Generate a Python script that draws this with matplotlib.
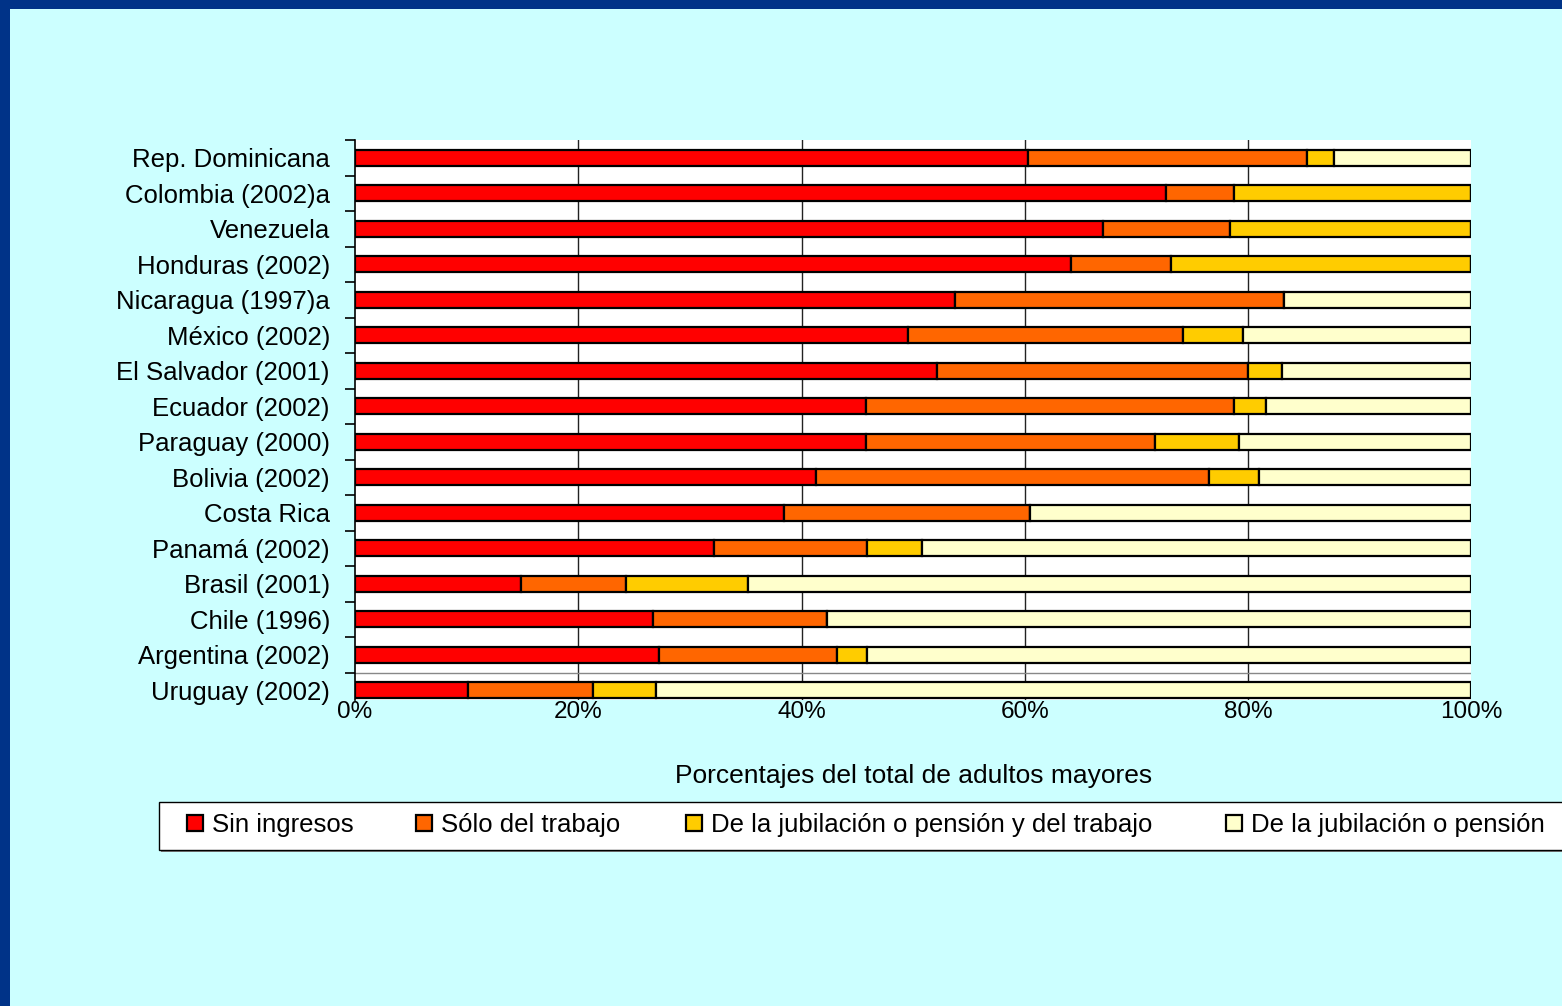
import matplotlib
matplotlib.use("Agg")
import matplotlib.pyplot as plt
from matplotlib.patches import Rectangle
import numpy as np

plt.rcParams['font.family'] = ['Liberation Sans', 'DejaVu Sans']

categories = ["Rep. Dominicana", "Colombia (2002)a", "Venezuela", "Honduras (2002)",
              "Nicaragua (1997)a", "México (2002)", "El Salvador (2001)", "Ecuador (2002)",
              "Paraguay (2000)", "Bolivia (2002)", "Costa Rica", "Panamá (2002)",
              "Brasil (2001)", "Chile (1996)", "Argentina (2002)", "Uruguay (2002)"]
sin_ingresos = [60.3, 72.6, 67.0, 64.1, 53.7, 49.5, 52.1, 45.8, 45.8, 41.3, 38.4, 32.2, 14.9, 26.7, 27.2, 10.1]
solo_trabajo = [25.0, 6.1, 11.4, 9.0, 29.5, 24.7, 27.9, 32.9, 25.9, 35.2, 22.1, 13.7, 9.4, 15.6, 16.0, 11.2]
jub_y_trabajo = [2.4, 21.3, 21.6, 26.9, 0.0, 5.3, 3.0, 2.9, 7.5, 4.5, 0.0, 4.9, 10.9, 0.0, 2.7, 5.7]
jub_pension = [12.3, 0.0, 0.0, 0.0, 16.8, 20.5, 17.0, 18.4, 20.8, 19.0, 39.5, 49.2, 64.8, 57.7, 54.1, 73.0]
series_labels = ["Sin ingresos", "Sólo del trabajo", "De la jubilación o pensión y del trabajo",
                 "De la jubilación o pensión"]
x_ticks = [0, 20, 40, 60, 80, 100]
x_ticklabels = ["0%", "20%", "40%", "60%", "80%", "100%"]
xlabel = "Porcentajes del total de adultos mayores"

colors = ["#FF0000", "#FF6600", "#FFCC00", "#FFFFCC"]
W, H = 1562, 1006
fig = plt.figure(figsize=(W / 100, H / 100), dpi=100, facecolor="#CCFFFF")

# blue frame bands
fig.patches.append(Rectangle((0, 1 - 9 / H), 1, 9 / H, transform=fig.transFigure,
                             facecolor="#003388", edgecolor="none", zorder=0))
fig.patches.append(Rectangle((0, 0), 10 / W, 1, transform=fig.transFigure,
                             facecolor="#003388", edgecolor="none", zorder=0))

left, right, top, bottom = 355, 1471.4, 140, 700
ax = fig.add_axes([left / W, 1 - bottom / H, (right - left) / W, (bottom - top) / H])
ax.set_facecolor("white")

y = np.arange(len(categories))
series = [sin_ingresos, solo_trabajo, jub_y_trabajo, jub_pension]
base = np.zeros(len(categories))
for vals, c, lab in zip(series, colors, series_labels):
    vals = np.array(vals)
    ax.barh(y, vals, left=base, height=0.45, color=c, edgecolor="black",
            linewidth=1.6, label=lab, zorder=3)
    base = base + vals

ax.set_xlim(0, 100)
ax.set_ylim(15.27, -0.5)
for gx in [20, 40, 60, 80]:
    ax.axvline(gx, color="#222222", linewidth=1, zorder=1)
ax.axhline(14.5, color="#888888", linewidth=1, zorder=1)

ax.set_xticks(x_ticks)
ax.set_xticklabels(x_ticklabels, fontsize=17.5)
ax.tick_params(axis="x", length=0, pad=1)
ax.set_yticks(y)
ax.set_yticklabels(categories, fontsize=18.5)
ax.set_yticks(np.arange(-0.5, 15.5, 1), minor=True)
ax.tick_params(axis="y", which="major", length=0, pad=18)
ax.tick_params(axis="y", which="minor", length=7, width=1.2, direction="out", color="black")
for s in ["top", "right", "bottom"]:
    ax.spines[s].set_visible(False)
ax.spines["left"].set_color("black")
ax.spines["left"].set_linewidth(1.2)

fig.text(914 / W, 1 - 776 / H, xlabel, fontsize=19, ha="center", va="center")

# legend frame with shadow
fig.patches.append(Rectangle((161 / W, 1 - 852 / H), (1700 - 159) / W, 48 / H,
                             transform=fig.transFigure, facecolor="#808080",
                             edgecolor="none", zorder=1))
fig.patches.append(Rectangle((159 / W, 1 - 850 / H), (1700 - 159) / W, 48 / H,
                             transform=fig.transFigure, facecolor="white",
                             edgecolor="black", linewidth=1, zorder=1))
handles, labels = ax.get_legend_handles_labels()
handle_x = [187, 416, 686, 1226]
for h, l, hx in zip(handles, labels, handle_x):
    leg = fig.legend([h], [l], loc="center left",
                     bbox_to_anchor=(hx / W, 1 - 825 / H), frameon=False,
                     fontsize=18.5, handlelength=0.62, handleheight=0.62,
                     handletextpad=0.36, borderpad=0, borderaxespad=0)
    leg.set_zorder(5)

fig.savefig("out.png", dpi=100, facecolor=fig.get_facecolor())
